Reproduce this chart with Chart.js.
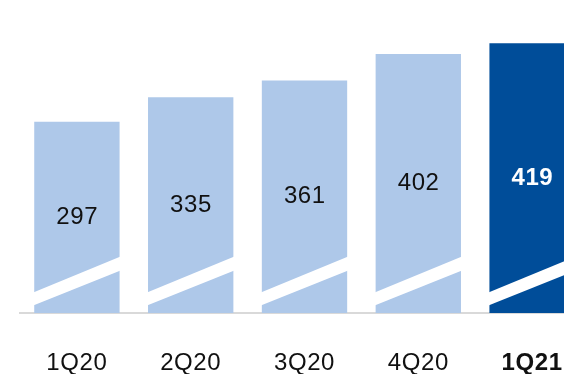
<!DOCTYPE html>
<html>
<head>
<meta charset="utf-8">
<script src="https://cdn.jsdelivr.net/npm/chart.js@4"></script>
<style>
html,body{margin:0;padding:0;background:#fff;overflow:hidden;width:564px;height:374px;}
#wrap{width:600px;height:374px;position:relative;}
</style>
</head>
<body>
<div id="wrap"><canvas id="c" width="600" height="374"></canvas></div>
<script>
const categories = ['1Q20', '2Q20', '3Q20', '4Q20', '1Q21'];
const values = [297, 335, 361, 402, 419];
const barColors = ['#aec8e9', '#aec8e9', '#aec8e9', '#aec8e9', '#004d99'];
const labelColors = ['#111111', '#111111', '#111111', '#111111', '#ffffff'];
const highlightIndex = 4;

const FONT = '"Liberation Sans", Arial, Helvetica, sans-serif';

const spacingPlugin = {
  id: 'spacing',
  beforeDraw(chart) { chart.ctx.letterSpacing = '0.6px'; }
};

const stripePlugin = {
  id: 'stripe',
  afterDatasetsDraw(chart) {
    const ctx = chart.ctx;
    const meta = chart.getDatasetMeta(0);
    ctx.save();
    ctx.fillStyle = '#ffffff';
    meta.data.forEach((bar) => {
      const p = bar.getProps(['x', 'width', 'base'], true);
      const xl = p.x - p.width / 2 - 1;
      const xr = p.x + p.width / 2 + 1;
      const b = p.base;
      ctx.beginPath();
      ctx.moveTo(xl, b - 20.5);
      ctx.lineTo(xr, b - 56.5);
      ctx.lineTo(xr, b - 42.5);
      ctx.lineTo(xl, b - 7.5);
      ctx.closePath();
      ctx.fill();
    });
    ctx.restore();
  }
};

const labelPlugin = {
  id: 'valueLabels',
  afterDatasetsDraw(chart) {
    const ctx = chart.ctx;
    const meta = chart.getDatasetMeta(0);
    ctx.save();
    ctx.textAlign = 'center';
    ctx.textBaseline = 'middle';
    meta.data.forEach((bar, i) => {
      const p = bar.getProps(['x', 'y', 'base'], true);
      ctx.font = (i === highlightIndex ? 'bold ' : '') + '24px ' + FONT;
      ctx.fillStyle = labelColors[i];
      ctx.fillText(String(values[i]), p.x + 0.3, (p.y + p.base) / 2);
    });
    ctx.restore();
  }
};

new Chart(document.getElementById('c'), {
  type: 'bar',
  data: {
    labels: categories,
    datasets: [{
      data: values,
      backgroundColor: barColors,
      borderWidth: 0,
      barPercentage: 0.75,
      categoryPercentage: 1.0
    }]
  },
  options: {
    responsive: false,
    animation: false,
    devicePixelRatio: 1,
    layout: { padding: { left: 20, right: 11, top: 0, bottom: 0 } },
    plugins: { legend: { display: false }, tooltip: { enabled: false } },
    scales: {
      x: {
        grid: { display: false, drawTicks: false },
        border: { display: true, color: '#d9d9d9', width: 2 },
        ticks: {
          padding: 36,
          color: '#111111',
          font: (ctx) => ({ family: FONT, size: 24, weight: ctx.index === highlightIndex ? 'bold' : 'normal' })
        },
        afterFit(scale) { scale.height = 61; }
      },
      y: {
        display: false,
        min: 0,
        max: 486
      }
    }
  },
  plugins: [spacingPlugin, stripePlugin, labelPlugin]
});
</script>
</body>
</html>
